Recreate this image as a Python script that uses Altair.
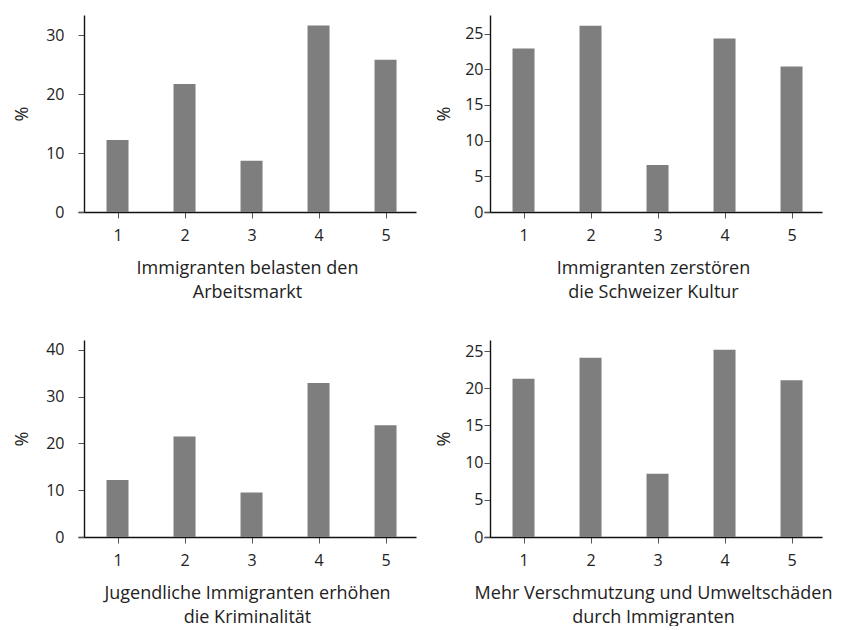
import altair as alt
import pandas as pd

categories = [1, 2, 3, 4, 5]
arbeitsmarkt = [12.2, 21.7, 8.7, 31.6, 25.8]
kultur = [22.9, 26.1, 6.6, 24.3, 20.4]
kriminalitaet = [12.2, 21.5, 9.5, 32.9, 23.9]
umwelt = [21.3, 24.1, 8.5, 25.2, 21.1]

titles = [
    ["Immigranten belasten den", "Arbeitsmarkt"],
    ["Immigranten zerstören", "die Schweizer Kultur"],
    ["Jugendliche Immigranten erhöhen", "die Kriminalität"],
    ["Mehr Verschmutzung und Umweltschäden", "durch Immigranten"],
]
y_tops = [33.4, 27.6, 42.1, 26.5]
y_ticks = [[0, 10, 20, 30], [0, 5, 10, 15, 20, 25], [0, 10, 20, 30, 40], [0, 5, 10, 15, 20, 25]]
series = [arbeitsmarkt, kultur, kriminalitaet, umwelt]

FONT = "Open Sans"
W, H = 338, 197


def panel(values, title, top, ticks, left_col):
    df = pd.DataFrame({"k": categories, "v": values})
    return (
        alt.Chart(df)
        .mark_bar(size=22, color="#7e7e7e")
        .encode(
            x=alt.X(
                "k:Q",
                scale=alt.Scale(domain=[0.485, 5.38], nice=False, zero=False),
                axis=alt.Axis(
                    values=categories, format="d", title=title, grid=False,
                    tickSize=6, labelPadding=9, titlePadding=16,
                    domainColor="#111", tickColor="#555", domainWidth=1.4,
                ),
            ),
            y=alt.Y(
                "v:Q",
                scale=alt.Scale(domain=[0, top], nice=False),
                axis=alt.Axis(
                    values=ticks, title="%", grid=False, offset=-6,
                    tickSize=6,
                    labelPadding=14 if left_col else 1,
                    titlePadding=14 if left_col else 11,
                    domainColor="#111", tickColor="#555", domainWidth=1.4,
                ),
            ),
        )
        .properties(width=W, height=H)
    )


charts = [
    panel(s, t, top, tk, i % 2 == 0)
    for i, (s, t, top, tk) in enumerate(zip(series, titles, y_tops, y_ticks))
]

chart = (
    alt.concat(*charts, columns=2, spacing={"row": 39, "column": 19})
    .properties(padding={"left": 5, "top": 7, "right": 0, "bottom": 0})
    .configure_view(stroke=None)
    .configure_axis(
        labelFont=FONT, titleFont=FONT, labelFontSize=16, titleFontSize=18,
        labelColor="#222", titleColor="#222", titleFontWeight="normal",
        titleLineHeight=24,
    )
)

chart.save("out.html", embed_options={"renderer": "svg", "actions": False})
